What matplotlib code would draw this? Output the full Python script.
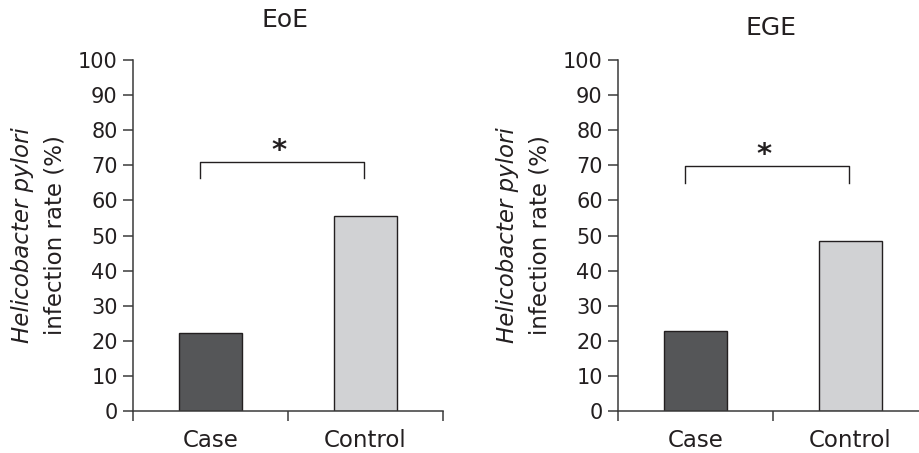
import numpy as np
import matplotlib
matplotlib.use("Agg")
import matplotlib.pyplot as plt

plt.rcParams.update({"font.family": "DejaVu Sans", "font.size": 15, "text.color": "#231f20",
                     "axes.edgecolor": "#3a3a3a", "xtick.color": "#3a3a3a", "ytick.color": "#3a3a3a",
                     "xtick.labelcolor": "#231f20", "ytick.labelcolor": "#231f20"})

groups = ["Case", "Control"]
titles = ["EoE", "EGE"]
eoe_rate = [22.3, 55.6]
ege_rate = [22.8, 48.5]
bar_colors = ["#555658", "#d1d2d4"]
# significance bracket: (top, leg bottom)
eoe_bracket = (71.0, 66.5)
ege_bracket = (69.8, 64.9)

W, H = 920, 453
fig = plt.figure(figsize=(W / 100, H / 100), dpi=100)

panels = [(eoe_rate, eoe_bracket, "EoE", 133, (285.5, 20)),
          (ege_rate, ege_bracket, "EGE", 618, (771.5, 28))]

for vals, (btop, bleg), ttl, x0, (tx, ty) in panels:
    ax = fig.add_axes([x0 / W, 1 - 411 / H, 310 / W, 351 / H])
    x = np.arange(len(groups))
    ax.bar(x, vals, 0.405, color=bar_colors, edgecolor="#231f20", lw=1.0, zorder=2)
    ax.set_xlim(-0.5, 1.5); ax.set_ylim(0, 100)
    ax.set_yticks(np.arange(0, 101, 10))
    ax.set_xticks(x); ax.set_xticklabels(groups, fontsize=16.5)
    ax.set_xticks([-0.5, 0.5, 1.5], minor=True)
    ax.tick_params(axis="x", which="major", length=0, pad=13)
    ax.tick_params(axis="x", which="minor", length=7, width=1.1)
    ax.tick_params(axis="y", length=7, width=1.1, pad=4)
    for s in ("top", "right"): ax.spines[s].set_visible(False)
    for s in ("left", "bottom"): ax.spines[s].set_linewidth(1.1)
    # bracket + asterisk
    bx0, bx1 = -0.07, 0.99
    ax.plot([bx0, bx0, bx1, bx1], [bleg, btop, btop, bleg], color="#231f20", lw=1.0, clip_on=False)
    ax.text((bx0 + bx1) / 2 - 0.02, btop + 0.8, "*", ha="center", va="baseline",
            fontsize=21, fontweight="bold")
    fig.text(tx / W, 1 - ty / H, ttl, ha="center", va="center", fontsize=18)
    # two-line y label
    ax.text(-0.355, 0.5, "Helicobacter pylori", style="italic", rotation=90, fontsize=16.5,
            ha="center", va="center", transform=ax.transAxes)
    ax.text(-0.25, 0.5, "infection rate (%)", rotation=90, fontsize=16.5,
            ha="center", va="center", transform=ax.transAxes)

fig.savefig("out.png", dpi=100)
